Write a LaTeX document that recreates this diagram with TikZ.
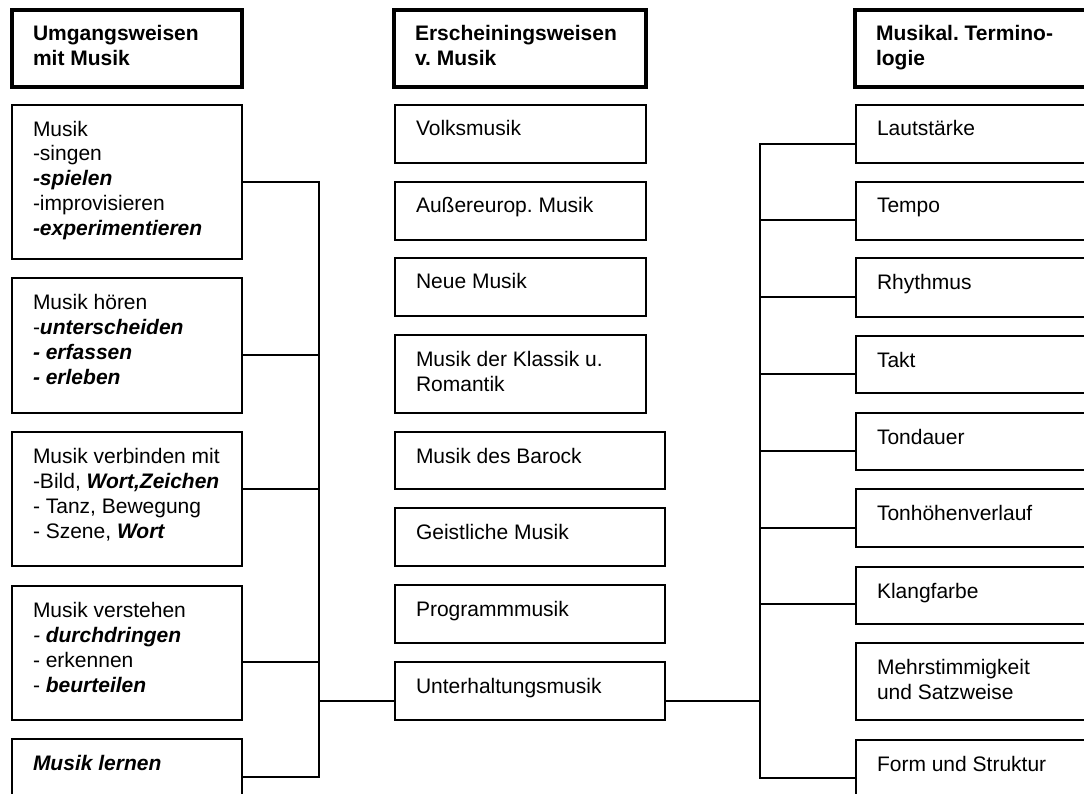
\documentclass[tikz,border=0pt]{standalone}
\usepackage{fontspec}
\setmainfont{Liberation Sans}
\frenchspacing
\newcommand{\bi}[1]{\textbf{\textit{#1}}}
\newcommand{\bxt}[3]{\vbox to #2pt{\hsize=#1pt\relax\parindent=0pt\leftskip=21pt\rightskip=0pt plus 1fil\parfillskip=0pt plus 1fil\baselineskip=25pt\lineskiplimit=-100pt\vskip11pt\noindent\rule{0pt}{20pt}#3\par\vfil}}
\tikzset{
  bx/.style={draw, line width=1.3pt, anchor=north west, inner sep=0pt, outer sep=0pt, font=\fontsize{21}{25}\selectfont},
  hd/.style={bx, line width=3.2pt, font=\fontsize{21}{25}\selectfont\bfseries},
  ln/.style={line width=1.3pt}
}
\begin{document}
\begin{tikzpicture}[x=1pt,y=-1pt]
\useasboundingbox (0,0) rectangle (1084,794);
\clip (0,0) rectangle (1084,794);
% left column
\node[hd] (H1) at (12,10) {\bxt{230}{77}{Umgangsweisen\newline mit Musik}};
\node[bx] (L1) at (12,105) {\bxt{230}{154}{Musik\newline -singen\newline \bi{-spielen}\newline -improvisieren\newline \bi{-experimentieren}}};
\node[bx] (L2) at (12,278) {\bxt{230}{135}{Musik hören\newline -\bi{unterscheiden}\newline \bi{- erfassen}\newline \bi{- erleben}}};
\node[bx] (L3) at (12,432) {\bxt{230}{134}{Musik verbinden mit\newline -Bild, \bi{Wort,Zeichen}\newline - Tanz, Bewegung\newline - Szene, \bi{Wort}}};
\node[bx] (L4) at (12,586) {\bxt{230}{134}{Musik verstehen\newline \textit{-} \bi{durchdringen}\newline - erkennen\newline - \bi{beurteilen}}};
\node[bx] (L5) at (12,739) {\bxt{230}{100}{\bi{Musik lernen}}};
% middle column
\node[hd] (H2) at (394,10) {\bxt{252}{77}{Erscheiningsweisen\newline v. Musik}};
\node[bx] (M1) at (395,105) {\bxt{251}{58}{Volksmusik}};
\node[bx] (M2) at (395,182) {\bxt{251}{58}{Außereurop. Musik}};
\node[bx] (M3) at (395,258) {\bxt{251}{58}{Neue Musik}};
\node[bx] (M4) at (395,335) {\bxt{251}{78}{Musik der Klassik u.\newline Romantik}};
\node[bx] (M5) at (395,432) {\bxt{270}{57}{Musik des Barock}};
\node[bx] (M6) at (395,508) {\bxt{270}{58}{Geistliche Musik}};
\node[bx] (M7) at (395,585) {\bxt{270}{58}{Programmmusik}};
\node[bx] (M8) at (395,662) {\bxt{270}{58}{Unterhaltungsmusik}};
% right column
\node[hd] (H3) at (855,10) {\bxt{240}{77}{Musikal. Termino-\newline logie}};
\node[bx] (R1) at (856,105) {\bxt{240}{58}{Lautstärke}};
\node[bx] (R2) at (856,182) {\bxt{240}{58}{Tempo}};
\node[bx] (R3) at (856,258) {\bxt{240}{59}{Rhythmus}};
\node[bx] (R4) at (856,336) {\bxt{240}{57}{Takt}};
\node[bx] (R5) at (856,413) {\bxt{240}{57}{Tondauer}};
\node[bx] (R6) at (856,489) {\bxt{240}{58}{Tonhöhenverlauf}};
\node[bx] (R7) at (856,567) {\bxt{240}{57}{Klangfarbe}};
\node[bx] (R8) at (856,643) {\bxt{240}{77}{Mehrstimmigkeit\newline und Satzweise}};
\node[bx] (R9) at (856,740) {\bxt{240}{100}{Form und Struktur}};
% left bus
\coordinate (lb1) at (319,182);
\coordinate (lb2) at (319,355);
\coordinate (lb3) at (319,489);
\coordinate (lb4) at (319,662);
\coordinate (lb5) at (319,777);
\coordinate (lbm) at (319,701);
\draw[ln] (L1.east |- lb1) -- (lb1) -- (lb5) -- (L5.east |- lb5);
\draw[ln] (L2.east |- lb2) -- (lb2);
\draw[ln] (L3.east |- lb3) -- (lb3);
\draw[ln] (L4.east |- lb4) -- (lb4);
\draw[ln] (lbm) -- (M8.west |- lbm);
% right bus
\coordinate (rb1) at (760,144);
\coordinate (rb2) at (760,220);
\coordinate (rb3) at (760,297);
\coordinate (rb4) at (760,374);
\coordinate (rb5) at (760,451);
\coordinate (rb6) at (760,528);
\coordinate (rb7) at (760,604);
\coordinate (rb9) at (760,778);
\coordinate (rbm) at (760,701);
\draw[ln] (R1.west |- rb1) -- (rb1) -- (rb9) -- (R9.west |- rb9);
\draw[ln] (R2.west |- rb2) -- (rb2);
\draw[ln] (R3.west |- rb3) -- (rb3);
\draw[ln] (R4.west |- rb4) -- (rb4);
\draw[ln] (R5.west |- rb5) -- (rb5);
\draw[ln] (R6.west |- rb6) -- (rb6);
\draw[ln] (R7.west |- rb7) -- (rb7);
\draw[ln] (M8.east |- rbm) -- (rbm);
\end{tikzpicture}
\end{document}
